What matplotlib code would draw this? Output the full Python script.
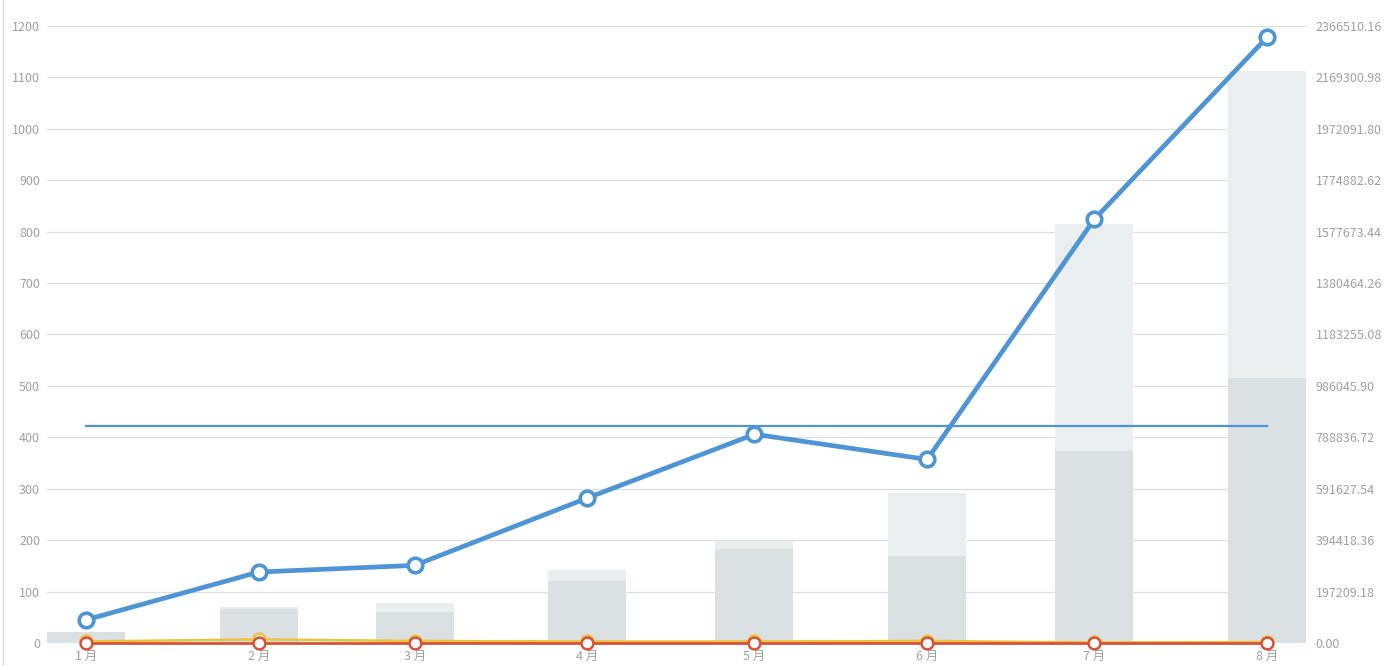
import datetime as dt
import matplotlib
matplotlib.use('Agg')
import matplotlib.pyplot as plt
import matplotlib.dates as mdates
from matplotlib.lines import Line2D

plt.rcParams['font.family'] = ['Noto Sans CJK SC', 'DejaVu Sans']

# monthly data
months = [dt.date(2023, m, 1) for m in range(1, 9)]
month_labels = ['1 月', '2 月', '3 月', '4 月', '5 月', '6 月', '7 月', '8 月']
bar_total = [21, 70, 77, 142, 198, 291, 815, 1112]
bar_part = [21, 66, 60, 120, 183, 169, 374, 516]
blue_vals = [45, 138, 151, 282, 406, 357, 824, 1178]
yellow_vals = [3, 7, 4, 3, 3, 4, 1, 2]
red_vals = [0, 0, 0, 0, 0, 0, 0, 0]

right_max = 2366510.16
left_ticks = list(range(0, 1201, 100))

GRID = '#dedede'
TXT = '#a0a0a0'
BLUE = '#4f94d5'
RED = '#d6533a'
YELLOW = '#efc23a'

fig = plt.figure(figsize=(13.94, 6.66), dpi=100)
ax = fig.add_axes([47 / 1394, 23 / 666, (1306 - 47) / 1394, (643 - 26) / 666])

x = mdates.date2num(months)
half = 7.0
ax.set_xlim(x[0] - half, x[-1] + half)
ax.set_ylim(0, 1200)

# bars: light total behind, darker part in front
ax.bar(x, bar_total, width=2 * half, color='#eaeeef', zorder=2)
ax.bar(x, bar_part, width=2 * half, color='#dbe0e2', zorder=3)

# average mark line
mean_val = sum(blue_vals) / len(blue_vals)
ax.plot([x[0], x[-1]], [mean_val, mean_val], color=BLUE, lw=1.6, zorder=4)

ax.plot(x, yellow_vals, color=YELLOW, lw=1.8, marker='o', ms=8.5,
        mfc='white', mec=YELLOW, mew=1.8, zorder=5, clip_on=False)
ax.plot(x, red_vals, color=RED, lw=2.0, marker='o', ms=8.5,
        mfc='white', mec=RED, mew=1.8, zorder=6, clip_on=False)
ax.plot(x, blue_vals, color=BLUE, lw=3.4, marker='o', ms=10.5,
        mfc='white', mec=BLUE, mew=2.6, zorder=7, clip_on=False)

# grid and axes styling
ax.set_yticks(left_ticks)
ax.yaxis.grid(True, color=GRID, lw=0.9, zorder=0)
ax.set_axisbelow(True)
for s in ax.spines.values():
    s.set_visible(False)
ax.tick_params(axis='y', length=0, pad=5, labelsize=9, labelcolor=TXT)
ax.set_xticks(x)
ax.set_xticklabels(month_labels)
ax.tick_params(axis='x', length=0, pad=5, labelsize=9, labelcolor=TXT)

ax2 = ax.twinx()
ax2.set_ylim(0, right_max)
ax2.set_yticks([right_max * i / 12 for i in range(13)])
ax2.set_yticklabels([f'{right_max * i / 12:.2f}' for i in range(13)])
ax2.tick_params(axis='y', length=0, pad=7, labelsize=9, labelcolor=TXT)
for s in ax2.spines.values():
    s.set_visible(False)

# thin border line at the far left
fig.add_artist(Line2D([2.5 / 1394, 2.5 / 1394], [0, 1], color='#d8d8d8', lw=1))

fig.savefig('out.png', dpi=100, facecolor='white')
